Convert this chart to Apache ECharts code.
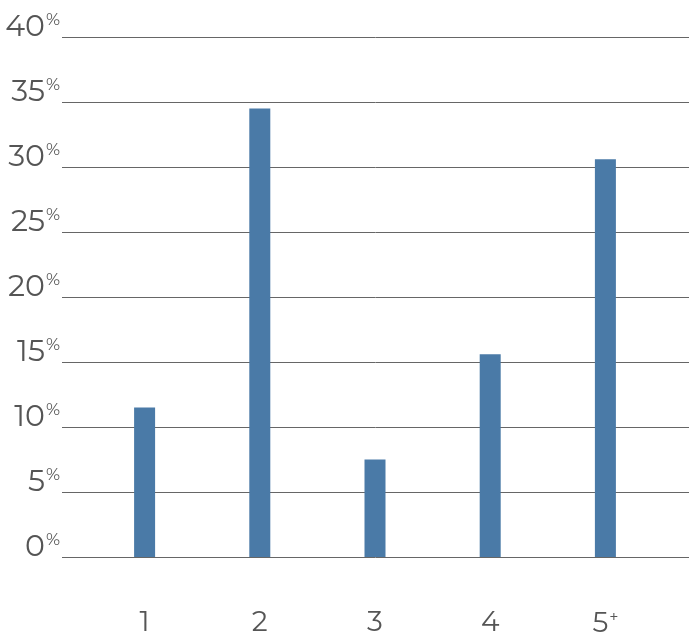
<!DOCTYPE html>
<html><head><meta charset="utf-8">
<script src="https://cdn.jsdelivr.net/npm/echarts@6/dist/echarts.min.js"></script>
<style>html,body{margin:0;padding:0;background:#fff}#c{width:689px;height:638px}</style>
</head><body><div id="c"></div>
<script>
const categories = ['1', '2', '3', '4', '5+'];
const values = [11.5, 34.5, 7.5, 15.6, 30.6];
const yTicks = [0, 5, 10, 15, 20, 25, 30, 35, 40];

const chart = echarts.init(document.getElementById('c'));
const txt = '#555';
const ff = 'Montserrat, "Open Sans", sans-serif';
chart.setOption({
  animation: false,
  grid: [
    {left: 62, right: 0, top: 37, bottom: 81},
    {left: 87, right: 26, top: 37, bottom: 81}
  ],
  xAxis: [
    {gridIndex: 0, type: 'category', data: categories, show: false},
    {gridIndex: 1, type: 'category', data: categories,
     axisLine: {show: false}, axisTick: {show: false},
     axisLabel: {margin: 52, color: txt, fontFamily: ff, fontSize: 28,
       formatter: function (v) { return v.endsWith('+') ? v.slice(0, -1) + '{p|+}' : v; },
       rich: {p: {fontSize: 16, color: txt, fontFamily: ff, padding: [0, 0, 14, 1]}}}}
  ],
  yAxis: [
    {gridIndex: 0, type: 'value', min: 0, max: 40, interval: 5,
     axisLine: {show: false}, axisTick: {show: false},
     splitLine: {lineStyle: {color: '#666', width: 1}},
     axisLabel: {margin: 2, color: txt, verticalAlign: 'bottom', fontFamily: ff,
       formatter: function (v) { return yTicks.indexOf(v) >= 0 ? '{n|' + v + '}{p|%}' : ''; },
       rich: {n: {fontSize: 30, lineHeight: 20, color: txt, fontFamily: ff},
              p: {fontSize: 17, lineHeight: 20, color: txt, fontFamily: ff, padding: [0, 0, 14, 1]}}}},
    {gridIndex: 1, type: 'value', min: 0, max: 40, interval: 5, show: false}
  ],
  series: [{
    type: 'bar', xAxisIndex: 1, yAxisIndex: 1, data: values, barWidth: 21,
    itemStyle: {color: '#4a7aa7'}
  }]
});
</script></body></html>
